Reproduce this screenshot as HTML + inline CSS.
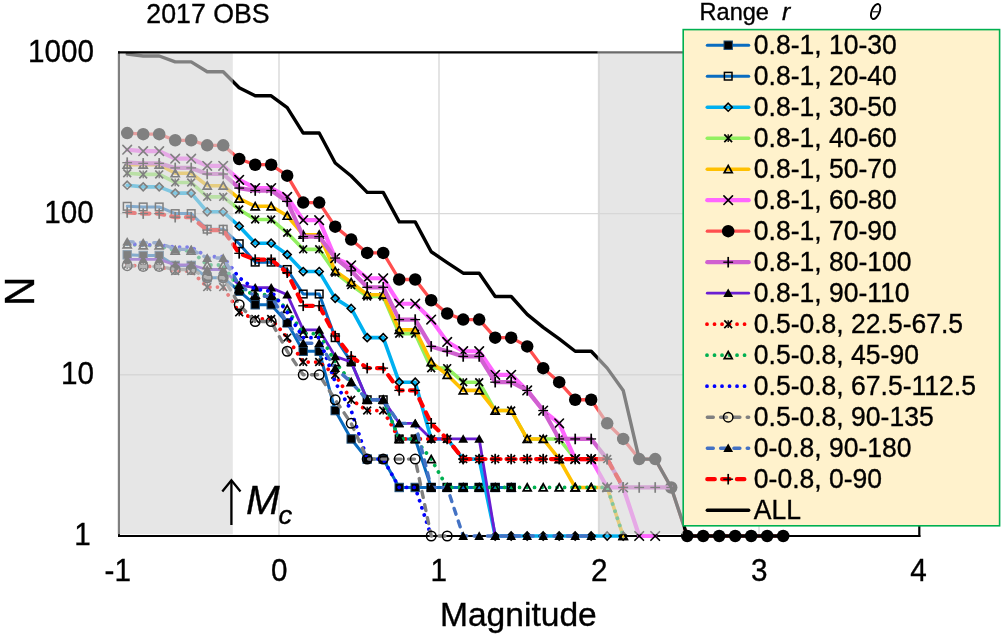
<!DOCTYPE html><html><head><meta charset="utf-8"><style>
html,body{margin:0;padding:0;background:#fff;}body{width:1001px;height:638px;overflow:hidden;}
svg{display:block;font-family:"Liberation Sans",sans-serif;will-change:transform;}text{stroke:#000;stroke-width:0.35px;}
</style></head><body>
<svg width="1001" height="638" viewBox="0 0 1001 638">
<rect x="0" y="0" width="1001" height="638" fill="#fff"/>
<line x1="279.0" y1="52.4" x2="279.0" y2="536" stroke="#D9D9D9" stroke-width="1.4"/>
<line x1="439.0" y1="52.4" x2="439.0" y2="536" stroke="#D9D9D9" stroke-width="1.4"/>
<line x1="599.0" y1="52.4" x2="599.0" y2="536" stroke="#D9D9D9" stroke-width="1.4"/>
<line x1="759.0" y1="52.4" x2="759.0" y2="536" stroke="#D9D9D9" stroke-width="1.4"/>
<line x1="119" y1="374.80" x2="919.5" y2="374.80" stroke="#D9D9D9" stroke-width="1.4"/>
<line x1="119" y1="213.60" x2="919.5" y2="213.60" stroke="#D9D9D9" stroke-width="1.4"/>
<line x1="919.3" y1="52.4" x2="919.3" y2="537" stroke="#000" stroke-width="2.2"/>
<line x1="118" y1="536" x2="920.4" y2="536" stroke="#000" stroke-width="2.2"/>
<line x1="119" y1="51.4" x2="119" y2="537" stroke="#000" stroke-width="2"/>
<path d="M127.20 254.82 L143.20 255.45 L159.20 255.45 L175.20 265.42 L191.20 265.42 L207.20 277.75 L223.20 277.75 L239.20 291.22 L255.20 304.75 L271.20 304.75 L287.20 322.86 L303.20 351.24 L319.20 351.24 L335.20 410.56 L351.20 438.95 L367.20 459.09 L383.20 459.09 L399.20 487.47 L415.20 487.47 L431.20 487.47 L447.20 487.47 L463.20 487.47 L479.20 487.47 L495.20 487.47 L511.20 487.47" fill="none" stroke="#0A6CC0" stroke-width="3.0" stroke-linejoin="round" stroke-linecap="round"/>
<g><rect x="123.00" y="250.62" width="8.4" height="8.4" fill="#000" stroke="#1F4E79" stroke-width="1"/><rect x="139.00" y="251.25" width="8.4" height="8.4" fill="#000" stroke="#1F4E79" stroke-width="1"/><rect x="155.00" y="251.25" width="8.4" height="8.4" fill="#000" stroke="#1F4E79" stroke-width="1"/><rect x="171.00" y="261.22" width="8.4" height="8.4" fill="#000" stroke="#1F4E79" stroke-width="1"/><rect x="187.00" y="261.22" width="8.4" height="8.4" fill="#000" stroke="#1F4E79" stroke-width="1"/><rect x="203.00" y="273.55" width="8.4" height="8.4" fill="#000" stroke="#1F4E79" stroke-width="1"/><rect x="219.00" y="273.55" width="8.4" height="8.4" fill="#000" stroke="#1F4E79" stroke-width="1"/><rect x="235.00" y="287.02" width="8.4" height="8.4" fill="#000" stroke="#1F4E79" stroke-width="1"/><rect x="251.00" y="300.55" width="8.4" height="8.4" fill="#000" stroke="#1F4E79" stroke-width="1"/><rect x="267.00" y="300.55" width="8.4" height="8.4" fill="#000" stroke="#1F4E79" stroke-width="1"/><rect x="283.00" y="318.66" width="8.4" height="8.4" fill="#000" stroke="#1F4E79" stroke-width="1"/><rect x="299.00" y="347.04" width="8.4" height="8.4" fill="#000" stroke="#1F4E79" stroke-width="1"/><rect x="315.00" y="347.04" width="8.4" height="8.4" fill="#000" stroke="#1F4E79" stroke-width="1"/><rect x="331.00" y="406.36" width="8.4" height="8.4" fill="#000" stroke="#1F4E79" stroke-width="1"/><rect x="347.00" y="434.75" width="8.4" height="8.4" fill="#000" stroke="#1F4E79" stroke-width="1"/><rect x="363.00" y="454.89" width="8.4" height="8.4" fill="#000" stroke="#1F4E79" stroke-width="1"/><rect x="379.00" y="454.89" width="8.4" height="8.4" fill="#000" stroke="#1F4E79" stroke-width="1"/><rect x="395.00" y="483.27" width="8.4" height="8.4" fill="#000" stroke="#1F4E79" stroke-width="1"/><rect x="411.00" y="483.27" width="8.4" height="8.4" fill="#000" stroke="#1F4E79" stroke-width="1"/><rect x="427.00" y="483.27" width="8.4" height="8.4" fill="#000" stroke="#1F4E79" stroke-width="1"/><rect x="443.00" y="483.27" width="8.4" height="8.4" fill="#000" stroke="#1F4E79" stroke-width="1"/><rect x="459.00" y="483.27" width="8.4" height="8.4" fill="#000" stroke="#1F4E79" stroke-width="1"/><rect x="475.00" y="483.27" width="8.4" height="8.4" fill="#000" stroke="#1F4E79" stroke-width="1"/><rect x="491.00" y="483.27" width="8.4" height="8.4" fill="#000" stroke="#1F4E79" stroke-width="1"/><rect x="507.00" y="483.27" width="8.4" height="8.4" fill="#000" stroke="#1F4E79" stroke-width="1"/></g>
<path d="M127.20 206.29 L143.20 206.93 L159.20 206.93 L175.20 213.60 L191.20 213.60 L207.20 229.22 L223.20 229.22 L239.20 243.76 L255.20 262.13 L271.20 262.13 L287.20 269.50 L303.20 294.03 L319.20 294.03 L335.20 337.65 L351.20 362.04 L367.20 399.77 L383.20 399.77 L399.20 438.95 L415.20 438.95 L431.20 487.47 L447.20 487.47 L463.20 487.47 L479.20 487.47 L495.20 487.47 L511.20 487.47" fill="none" stroke="#0A6CC0" stroke-width="3.0" stroke-linejoin="round" stroke-linecap="round"/>
<g><rect x="123.40" y="202.49" width="7.6" height="7.6" fill="none" stroke="#000" stroke-width="1.5"/><rect x="139.40" y="203.13" width="7.6" height="7.6" fill="none" stroke="#000" stroke-width="1.5"/><rect x="155.40" y="203.13" width="7.6" height="7.6" fill="none" stroke="#000" stroke-width="1.5"/><rect x="171.40" y="209.80" width="7.6" height="7.6" fill="none" stroke="#000" stroke-width="1.5"/><rect x="187.40" y="209.80" width="7.6" height="7.6" fill="none" stroke="#000" stroke-width="1.5"/><rect x="203.40" y="225.42" width="7.6" height="7.6" fill="none" stroke="#000" stroke-width="1.5"/><rect x="219.40" y="225.42" width="7.6" height="7.6" fill="none" stroke="#000" stroke-width="1.5"/><rect x="235.40" y="239.96" width="7.6" height="7.6" fill="none" stroke="#000" stroke-width="1.5"/><rect x="251.40" y="258.33" width="7.6" height="7.6" fill="none" stroke="#000" stroke-width="1.5"/><rect x="267.40" y="258.33" width="7.6" height="7.6" fill="none" stroke="#000" stroke-width="1.5"/><rect x="283.40" y="265.70" width="7.6" height="7.6" fill="none" stroke="#000" stroke-width="1.5"/><rect x="299.40" y="290.23" width="7.6" height="7.6" fill="none" stroke="#000" stroke-width="1.5"/><rect x="315.40" y="290.23" width="7.6" height="7.6" fill="none" stroke="#000" stroke-width="1.5"/><rect x="331.40" y="333.85" width="7.6" height="7.6" fill="none" stroke="#000" stroke-width="1.5"/><rect x="347.40" y="358.24" width="7.6" height="7.6" fill="none" stroke="#000" stroke-width="1.5"/><rect x="363.40" y="395.97" width="7.6" height="7.6" fill="none" stroke="#000" stroke-width="1.5"/><rect x="379.40" y="395.97" width="7.6" height="7.6" fill="none" stroke="#000" stroke-width="1.5"/><rect x="395.40" y="435.15" width="7.6" height="7.6" fill="none" stroke="#000" stroke-width="1.5"/><rect x="411.40" y="435.15" width="7.6" height="7.6" fill="none" stroke="#000" stroke-width="1.5"/><rect x="427.40" y="483.67" width="7.6" height="7.6" fill="none" stroke="#000" stroke-width="1.5"/><rect x="443.40" y="483.67" width="7.6" height="7.6" fill="none" stroke="#000" stroke-width="1.5"/><rect x="459.40" y="483.67" width="7.6" height="7.6" fill="none" stroke="#000" stroke-width="1.5"/><rect x="475.40" y="483.67" width="7.6" height="7.6" fill="none" stroke="#000" stroke-width="1.5"/><rect x="491.40" y="483.67" width="7.6" height="7.6" fill="none" stroke="#000" stroke-width="1.5"/><rect x="507.40" y="483.67" width="7.6" height="7.6" fill="none" stroke="#000" stroke-width="1.5"/></g>
<path d="M127.20 185.21 L143.20 186.87 L159.20 186.87 L175.20 193.11 L191.20 193.11 L207.20 211.80 L223.20 211.80 L239.20 226.22 L255.20 243.22 L271.20 243.22 L287.20 254.57 L303.20 271.55 L319.20 271.55 L335.20 298.36 L351.20 308.45 L367.20 337.65 L383.20 337.65 L399.20 382.18 L415.20 382.18 L431.20 438.95 L447.20 438.95 L463.20 459.09 L479.20 459.09 L495.20 536.00 L511.20 536.00 L527.20 536.00 L543.20 536.00 L559.20 536.00 L575.20 536.00 L591.20 536.00 L607.20 536.00 L623.20 536.00" fill="none" stroke="#00B0F0" stroke-width="3.6" stroke-linejoin="round" stroke-linecap="round"/>
<g><path d="M127.20 181.21L131.20 185.21L127.20 189.21L123.20 185.21Z" fill="none" stroke="#000" stroke-width="1.6"/><path d="M143.20 182.87L147.20 186.87L143.20 190.87L139.20 186.87Z" fill="none" stroke="#000" stroke-width="1.6"/><path d="M159.20 182.87L163.20 186.87L159.20 190.87L155.20 186.87Z" fill="none" stroke="#000" stroke-width="1.6"/><path d="M175.20 189.11L179.20 193.11L175.20 197.11L171.20 193.11Z" fill="none" stroke="#000" stroke-width="1.6"/><path d="M191.20 189.11L195.20 193.11L191.20 197.11L187.20 193.11Z" fill="none" stroke="#000" stroke-width="1.6"/><path d="M207.20 207.80L211.20 211.80L207.20 215.80L203.20 211.80Z" fill="none" stroke="#000" stroke-width="1.6"/><path d="M223.20 207.80L227.20 211.80L223.20 215.80L219.20 211.80Z" fill="none" stroke="#000" stroke-width="1.6"/><path d="M239.20 222.22L243.20 226.22L239.20 230.22L235.20 226.22Z" fill="none" stroke="#000" stroke-width="1.6"/><path d="M255.20 239.22L259.20 243.22L255.20 247.22L251.20 243.22Z" fill="none" stroke="#000" stroke-width="1.6"/><path d="M271.20 239.22L275.20 243.22L271.20 247.22L267.20 243.22Z" fill="none" stroke="#000" stroke-width="1.6"/><path d="M287.20 250.57L291.20 254.57L287.20 258.57L283.20 254.57Z" fill="none" stroke="#000" stroke-width="1.6"/><path d="M303.20 267.55L307.20 271.55L303.20 275.55L299.20 271.55Z" fill="none" stroke="#000" stroke-width="1.6"/><path d="M319.20 267.55L323.20 271.55L319.20 275.55L315.20 271.55Z" fill="none" stroke="#000" stroke-width="1.6"/><path d="M335.20 294.36L339.20 298.36L335.20 302.36L331.20 298.36Z" fill="none" stroke="#000" stroke-width="1.6"/><path d="M351.20 304.45L355.20 308.45L351.20 312.45L347.20 308.45Z" fill="none" stroke="#000" stroke-width="1.6"/><path d="M367.20 333.65L371.20 337.65L367.20 341.65L363.20 337.65Z" fill="none" stroke="#000" stroke-width="1.6"/><path d="M383.20 333.65L387.20 337.65L383.20 341.65L379.20 337.65Z" fill="none" stroke="#000" stroke-width="1.6"/><path d="M399.20 378.18L403.20 382.18L399.20 386.18L395.20 382.18Z" fill="none" stroke="#000" stroke-width="1.6"/><path d="M415.20 378.18L419.20 382.18L415.20 386.18L411.20 382.18Z" fill="none" stroke="#000" stroke-width="1.6"/><path d="M431.20 434.95L435.20 438.95L431.20 442.95L427.20 438.95Z" fill="none" stroke="#000" stroke-width="1.6"/><path d="M447.20 434.95L451.20 438.95L447.20 442.95L443.20 438.95Z" fill="none" stroke="#000" stroke-width="1.6"/><path d="M463.20 455.09L467.20 459.09L463.20 463.09L459.20 459.09Z" fill="none" stroke="#000" stroke-width="1.6"/><path d="M479.20 455.09L483.20 459.09L479.20 463.09L475.20 459.09Z" fill="none" stroke="#000" stroke-width="1.6"/><path d="M495.20 532.00L499.20 536.00L495.20 540.00L491.20 536.00Z" fill="none" stroke="#000" stroke-width="1.6"/><path d="M511.20 532.00L515.20 536.00L511.20 540.00L507.20 536.00Z" fill="none" stroke="#000" stroke-width="1.6"/><path d="M527.20 532.00L531.20 536.00L527.20 540.00L523.20 536.00Z" fill="none" stroke="#000" stroke-width="1.6"/><path d="M543.20 532.00L547.20 536.00L543.20 540.00L539.20 536.00Z" fill="none" stroke="#000" stroke-width="1.6"/><path d="M559.20 532.00L563.20 536.00L559.20 540.00L555.20 536.00Z" fill="none" stroke="#000" stroke-width="1.6"/><path d="M575.20 532.00L579.20 536.00L575.20 540.00L571.20 536.00Z" fill="none" stroke="#000" stroke-width="1.6"/><path d="M591.20 532.00L595.20 536.00L591.20 540.00L587.20 536.00Z" fill="none" stroke="#000" stroke-width="1.6"/><path d="M607.20 532.00L611.20 536.00L607.20 540.00L603.20 536.00Z" fill="none" stroke="#000" stroke-width="1.6"/><path d="M623.20 532.00L627.20 536.00L623.20 540.00L619.20 536.00Z" fill="none" stroke="#000" stroke-width="1.6"/></g>
<path d="M127.20 173.23 L143.20 174.42 L159.20 174.42 L175.20 182.47 L191.20 182.47 L207.20 196.87 L223.20 196.87 L239.20 209.52 L255.20 219.44 L271.20 219.44 L287.20 232.81 L303.20 249.36 L319.20 249.36 L335.20 272.68 L351.20 285.12 L367.20 296.50 L383.20 296.50 L399.20 333.65 L415.20 333.65 L431.20 368.13 L447.20 368.13 L463.20 382.18 L479.20 382.18 L495.20 410.56 L511.20 410.56 L527.20 438.95 L543.20 438.95 L559.20 438.95 L575.20 459.09 L591.20 459.09" fill="none" stroke="#92F060" stroke-width="3.6" stroke-linejoin="round" stroke-linecap="round"/>
<g><path d="M123.30 169.33L131.10 177.13M131.10 169.33L123.30 177.13" stroke="#000" stroke-width="1.7" fill="none"/><path d="M127.20 169.33L127.20 177.13" stroke="#000" stroke-width="1.3" fill="none"/><path d="M139.30 170.52L147.10 178.32M147.10 170.52L139.30 178.32" stroke="#000" stroke-width="1.7" fill="none"/><path d="M143.20 170.52L143.20 178.32" stroke="#000" stroke-width="1.3" fill="none"/><path d="M155.30 170.52L163.10 178.32M163.10 170.52L155.30 178.32" stroke="#000" stroke-width="1.7" fill="none"/><path d="M159.20 170.52L159.20 178.32" stroke="#000" stroke-width="1.3" fill="none"/><path d="M171.30 178.57L179.10 186.37M179.10 178.57L171.30 186.37" stroke="#000" stroke-width="1.7" fill="none"/><path d="M175.20 178.57L175.20 186.37" stroke="#000" stroke-width="1.3" fill="none"/><path d="M187.30 178.57L195.10 186.37M195.10 178.57L187.30 186.37" stroke="#000" stroke-width="1.7" fill="none"/><path d="M191.20 178.57L191.20 186.37" stroke="#000" stroke-width="1.3" fill="none"/><path d="M203.30 192.97L211.10 200.77M211.10 192.97L203.30 200.77" stroke="#000" stroke-width="1.7" fill="none"/><path d="M207.20 192.97L207.20 200.77" stroke="#000" stroke-width="1.3" fill="none"/><path d="M219.30 192.97L227.10 200.77M227.10 192.97L219.30 200.77" stroke="#000" stroke-width="1.7" fill="none"/><path d="M223.20 192.97L223.20 200.77" stroke="#000" stroke-width="1.3" fill="none"/><path d="M235.30 205.62L243.10 213.42M243.10 205.62L235.30 213.42" stroke="#000" stroke-width="1.7" fill="none"/><path d="M239.20 205.62L239.20 213.42" stroke="#000" stroke-width="1.3" fill="none"/><path d="M251.30 215.54L259.10 223.34M259.10 215.54L251.30 223.34" stroke="#000" stroke-width="1.7" fill="none"/><path d="M255.20 215.54L255.20 223.34" stroke="#000" stroke-width="1.3" fill="none"/><path d="M267.30 215.54L275.10 223.34M275.10 215.54L267.30 223.34" stroke="#000" stroke-width="1.7" fill="none"/><path d="M271.20 215.54L271.20 223.34" stroke="#000" stroke-width="1.3" fill="none"/><path d="M283.30 228.91L291.10 236.71M291.10 228.91L283.30 236.71" stroke="#000" stroke-width="1.7" fill="none"/><path d="M287.20 228.91L287.20 236.71" stroke="#000" stroke-width="1.3" fill="none"/><path d="M299.30 245.46L307.10 253.26M307.10 245.46L299.30 253.26" stroke="#000" stroke-width="1.7" fill="none"/><path d="M303.20 245.46L303.20 253.26" stroke="#000" stroke-width="1.3" fill="none"/><path d="M315.30 245.46L323.10 253.26M323.10 245.46L315.30 253.26" stroke="#000" stroke-width="1.7" fill="none"/><path d="M319.20 245.46L319.20 253.26" stroke="#000" stroke-width="1.3" fill="none"/><path d="M331.30 268.78L339.10 276.58M339.10 268.78L331.30 276.58" stroke="#000" stroke-width="1.7" fill="none"/><path d="M335.20 268.78L335.20 276.58" stroke="#000" stroke-width="1.3" fill="none"/><path d="M347.30 281.22L355.10 289.02M355.10 281.22L347.30 289.02" stroke="#000" stroke-width="1.7" fill="none"/><path d="M351.20 281.22L351.20 289.02" stroke="#000" stroke-width="1.3" fill="none"/><path d="M363.30 292.60L371.10 300.40M371.10 292.60L363.30 300.40" stroke="#000" stroke-width="1.7" fill="none"/><path d="M367.20 292.60L367.20 300.40" stroke="#000" stroke-width="1.3" fill="none"/><path d="M379.30 292.60L387.10 300.40M387.10 292.60L379.30 300.40" stroke="#000" stroke-width="1.7" fill="none"/><path d="M383.20 292.60L383.20 300.40" stroke="#000" stroke-width="1.3" fill="none"/><path d="M395.30 329.75L403.10 337.55M403.10 329.75L395.30 337.55" stroke="#000" stroke-width="1.7" fill="none"/><path d="M399.20 329.75L399.20 337.55" stroke="#000" stroke-width="1.3" fill="none"/><path d="M411.30 329.75L419.10 337.55M419.10 329.75L411.30 337.55" stroke="#000" stroke-width="1.7" fill="none"/><path d="M415.20 329.75L415.20 337.55" stroke="#000" stroke-width="1.3" fill="none"/><path d="M427.30 364.23L435.10 372.03M435.10 364.23L427.30 372.03" stroke="#000" stroke-width="1.7" fill="none"/><path d="M431.20 364.23L431.20 372.03" stroke="#000" stroke-width="1.3" fill="none"/><path d="M443.30 364.23L451.10 372.03M451.10 364.23L443.30 372.03" stroke="#000" stroke-width="1.7" fill="none"/><path d="M447.20 364.23L447.20 372.03" stroke="#000" stroke-width="1.3" fill="none"/><path d="M459.30 378.28L467.10 386.08M467.10 378.28L459.30 386.08" stroke="#000" stroke-width="1.7" fill="none"/><path d="M463.20 378.28L463.20 386.08" stroke="#000" stroke-width="1.3" fill="none"/><path d="M475.30 378.28L483.10 386.08M483.10 378.28L475.30 386.08" stroke="#000" stroke-width="1.7" fill="none"/><path d="M479.20 378.28L479.20 386.08" stroke="#000" stroke-width="1.3" fill="none"/><path d="M491.30 406.66L499.10 414.46M499.10 406.66L491.30 414.46" stroke="#000" stroke-width="1.7" fill="none"/><path d="M495.20 406.66L495.20 414.46" stroke="#000" stroke-width="1.3" fill="none"/><path d="M507.30 406.66L515.10 414.46M515.10 406.66L507.30 414.46" stroke="#000" stroke-width="1.7" fill="none"/><path d="M511.20 406.66L511.20 414.46" stroke="#000" stroke-width="1.3" fill="none"/><path d="M523.30 435.05L531.10 442.85M531.10 435.05L523.30 442.85" stroke="#000" stroke-width="1.7" fill="none"/><path d="M527.20 435.05L527.20 442.85" stroke="#000" stroke-width="1.3" fill="none"/><path d="M539.30 435.05L547.10 442.85M547.10 435.05L539.30 442.85" stroke="#000" stroke-width="1.7" fill="none"/><path d="M543.20 435.05L543.20 442.85" stroke="#000" stroke-width="1.3" fill="none"/><path d="M555.30 435.05L563.10 442.85M563.10 435.05L555.30 442.85" stroke="#000" stroke-width="1.7" fill="none"/><path d="M559.20 435.05L559.20 442.85" stroke="#000" stroke-width="1.3" fill="none"/><path d="M571.30 455.19L579.10 462.99M579.10 455.19L571.30 462.99" stroke="#000" stroke-width="1.7" fill="none"/><path d="M575.20 455.19L575.20 462.99" stroke="#000" stroke-width="1.3" fill="none"/><path d="M587.30 455.19L595.10 462.99M595.10 455.19L587.30 462.99" stroke="#000" stroke-width="1.7" fill="none"/><path d="M591.20 455.19L591.20 462.99" stroke="#000" stroke-width="1.3" fill="none"/></g>
<path d="M127.20 164.72 L143.20 164.72 L159.20 164.72 L175.20 173.23 L191.20 173.23 L207.20 185.68 L223.20 185.68 L239.20 198.54 L255.20 206.29 L271.20 206.29 L287.20 215.73 L303.20 234.68 L319.20 234.68 L335.20 271.08 L351.20 282.27 L367.20 294.69 L383.20 294.69 L399.20 329.86 L415.20 329.86 L431.20 362.04 L447.20 374.80 L463.20 390.42 L479.20 390.42 L495.20 410.56 L511.20 410.56 L527.20 438.95 L543.20 438.95 L559.20 459.09 L575.20 487.47 L591.20 487.47 L607.20 487.47 L623.20 536.00" fill="none" stroke="#FFC000" stroke-width="3.6" stroke-linejoin="round" stroke-linecap="round"/>
<g><path d="M127.20 161.02L131.20 168.22L123.20 168.22Z" fill="none" stroke="#000" stroke-width="1.7" stroke-linejoin="miter"/><path d="M143.20 161.02L147.20 168.22L139.20 168.22Z" fill="none" stroke="#000" stroke-width="1.7" stroke-linejoin="miter"/><path d="M159.20 161.02L163.20 168.22L155.20 168.22Z" fill="none" stroke="#000" stroke-width="1.7" stroke-linejoin="miter"/><path d="M175.20 169.53L179.20 176.73L171.20 176.73Z" fill="none" stroke="#000" stroke-width="1.7" stroke-linejoin="miter"/><path d="M191.20 169.53L195.20 176.73L187.20 176.73Z" fill="none" stroke="#000" stroke-width="1.7" stroke-linejoin="miter"/><path d="M207.20 181.98L211.20 189.18L203.20 189.18Z" fill="none" stroke="#000" stroke-width="1.7" stroke-linejoin="miter"/><path d="M223.20 181.98L227.20 189.18L219.20 189.18Z" fill="none" stroke="#000" stroke-width="1.7" stroke-linejoin="miter"/><path d="M239.20 194.84L243.20 202.04L235.20 202.04Z" fill="none" stroke="#000" stroke-width="1.7" stroke-linejoin="miter"/><path d="M255.20 202.59L259.20 209.79L251.20 209.79Z" fill="none" stroke="#000" stroke-width="1.7" stroke-linejoin="miter"/><path d="M271.20 202.59L275.20 209.79L267.20 209.79Z" fill="none" stroke="#000" stroke-width="1.7" stroke-linejoin="miter"/><path d="M287.20 212.03L291.20 219.23L283.20 219.23Z" fill="none" stroke="#000" stroke-width="1.7" stroke-linejoin="miter"/><path d="M303.20 230.98L307.20 238.18L299.20 238.18Z" fill="none" stroke="#000" stroke-width="1.7" stroke-linejoin="miter"/><path d="M319.20 230.98L323.20 238.18L315.20 238.18Z" fill="none" stroke="#000" stroke-width="1.7" stroke-linejoin="miter"/><path d="M335.20 267.38L339.20 274.58L331.20 274.58Z" fill="none" stroke="#000" stroke-width="1.7" stroke-linejoin="miter"/><path d="M351.20 278.57L355.20 285.77L347.20 285.77Z" fill="none" stroke="#000" stroke-width="1.7" stroke-linejoin="miter"/><path d="M367.20 290.99L371.20 298.19L363.20 298.19Z" fill="none" stroke="#000" stroke-width="1.7" stroke-linejoin="miter"/><path d="M383.20 290.99L387.20 298.19L379.20 298.19Z" fill="none" stroke="#000" stroke-width="1.7" stroke-linejoin="miter"/><path d="M399.20 326.16L403.20 333.36L395.20 333.36Z" fill="none" stroke="#000" stroke-width="1.7" stroke-linejoin="miter"/><path d="M415.20 326.16L419.20 333.36L411.20 333.36Z" fill="none" stroke="#000" stroke-width="1.7" stroke-linejoin="miter"/><path d="M431.20 358.34L435.20 365.54L427.20 365.54Z" fill="none" stroke="#000" stroke-width="1.7" stroke-linejoin="miter"/><path d="M447.20 371.10L451.20 378.30L443.20 378.30Z" fill="none" stroke="#000" stroke-width="1.7" stroke-linejoin="miter"/><path d="M463.20 386.72L467.20 393.92L459.20 393.92Z" fill="none" stroke="#000" stroke-width="1.7" stroke-linejoin="miter"/><path d="M479.20 386.72L483.20 393.92L475.20 393.92Z" fill="none" stroke="#000" stroke-width="1.7" stroke-linejoin="miter"/><path d="M495.20 406.86L499.20 414.06L491.20 414.06Z" fill="none" stroke="#000" stroke-width="1.7" stroke-linejoin="miter"/><path d="M511.20 406.86L515.20 414.06L507.20 414.06Z" fill="none" stroke="#000" stroke-width="1.7" stroke-linejoin="miter"/><path d="M527.20 435.25L531.20 442.45L523.20 442.45Z" fill="none" stroke="#000" stroke-width="1.7" stroke-linejoin="miter"/><path d="M543.20 435.25L547.20 442.45L539.20 442.45Z" fill="none" stroke="#000" stroke-width="1.7" stroke-linejoin="miter"/><path d="M559.20 455.39L563.20 462.59L555.20 462.59Z" fill="none" stroke="#000" stroke-width="1.7" stroke-linejoin="miter"/><path d="M575.20 483.77L579.20 490.97L571.20 490.97Z" fill="none" stroke="#000" stroke-width="1.7" stroke-linejoin="miter"/><path d="M591.20 483.77L595.20 490.97L587.20 490.97Z" fill="none" stroke="#000" stroke-width="1.7" stroke-linejoin="miter"/><path d="M607.20 483.77L611.20 490.97L603.20 490.97Z" fill="none" stroke="#000" stroke-width="1.7" stroke-linejoin="miter"/><path d="M623.20 532.30L627.20 539.50L619.20 539.50Z" fill="none" stroke="#000" stroke-width="1.7" stroke-linejoin="miter"/></g>
<path d="M127.20 149.73 L143.20 151.15 L159.20 151.15 L175.20 158.72 L191.20 158.72 L207.20 165.78 L223.20 165.78 L239.20 179.83 L255.20 188.07 L271.20 188.07 L287.20 196.87 L303.20 220.20 L319.20 220.20 L335.20 258.05 L351.20 265.28 L367.20 278.27 L383.20 278.27 L399.20 303.73 L415.20 303.73 L431.20 319.60 L447.20 341.90 L463.20 351.24 L479.20 351.24 L495.20 374.80 L511.20 374.80 L527.20 390.42 L543.20 410.56 L559.20 423.33 L575.20 459.09 L591.20 459.09 L607.20 487.47 L623.20 487.47 L639.20 536.00 L655.20 536.00" fill="none" stroke="#FF66FF" stroke-width="4.2" stroke-linejoin="round" stroke-linecap="round"/>
<g><path d="M122.90 145.43L131.50 154.03M131.50 145.43L122.90 154.03" stroke="#000" stroke-width="1.6" fill="none" stroke-linecap="round"/><path d="M138.90 146.85L147.50 155.45M147.50 146.85L138.90 155.45" stroke="#000" stroke-width="1.6" fill="none" stroke-linecap="round"/><path d="M154.90 146.85L163.50 155.45M163.50 146.85L154.90 155.45" stroke="#000" stroke-width="1.6" fill="none" stroke-linecap="round"/><path d="M170.90 154.42L179.50 163.02M179.50 154.42L170.90 163.02" stroke="#000" stroke-width="1.6" fill="none" stroke-linecap="round"/><path d="M186.90 154.42L195.50 163.02M195.50 154.42L186.90 163.02" stroke="#000" stroke-width="1.6" fill="none" stroke-linecap="round"/><path d="M202.90 161.48L211.50 170.08M211.50 161.48L202.90 170.08" stroke="#000" stroke-width="1.6" fill="none" stroke-linecap="round"/><path d="M218.90 161.48L227.50 170.08M227.50 161.48L218.90 170.08" stroke="#000" stroke-width="1.6" fill="none" stroke-linecap="round"/><path d="M234.90 175.53L243.50 184.13M243.50 175.53L234.90 184.13" stroke="#000" stroke-width="1.6" fill="none" stroke-linecap="round"/><path d="M250.90 183.77L259.50 192.37M259.50 183.77L250.90 192.37" stroke="#000" stroke-width="1.6" fill="none" stroke-linecap="round"/><path d="M266.90 183.77L275.50 192.37M275.50 183.77L266.90 192.37" stroke="#000" stroke-width="1.6" fill="none" stroke-linecap="round"/><path d="M282.90 192.57L291.50 201.17M291.50 192.57L282.90 201.17" stroke="#000" stroke-width="1.6" fill="none" stroke-linecap="round"/><path d="M298.90 215.90L307.50 224.50M307.50 215.90L298.90 224.50" stroke="#000" stroke-width="1.6" fill="none" stroke-linecap="round"/><path d="M314.90 215.90L323.50 224.50M323.50 215.90L314.90 224.50" stroke="#000" stroke-width="1.6" fill="none" stroke-linecap="round"/><path d="M330.90 253.75L339.50 262.35M339.50 253.75L330.90 262.35" stroke="#000" stroke-width="1.6" fill="none" stroke-linecap="round"/><path d="M346.90 260.98L355.50 269.58M355.50 260.98L346.90 269.58" stroke="#000" stroke-width="1.6" fill="none" stroke-linecap="round"/><path d="M362.90 273.97L371.50 282.57M371.50 273.97L362.90 282.57" stroke="#000" stroke-width="1.6" fill="none" stroke-linecap="round"/><path d="M378.90 273.97L387.50 282.57M387.50 273.97L378.90 282.57" stroke="#000" stroke-width="1.6" fill="none" stroke-linecap="round"/><path d="M394.90 299.43L403.50 308.03M403.50 299.43L394.90 308.03" stroke="#000" stroke-width="1.6" fill="none" stroke-linecap="round"/><path d="M410.90 299.43L419.50 308.03M419.50 299.43L410.90 308.03" stroke="#000" stroke-width="1.6" fill="none" stroke-linecap="round"/><path d="M426.90 315.30L435.50 323.90M435.50 315.30L426.90 323.90" stroke="#000" stroke-width="1.6" fill="none" stroke-linecap="round"/><path d="M442.90 337.60L451.50 346.20M451.50 337.60L442.90 346.20" stroke="#000" stroke-width="1.6" fill="none" stroke-linecap="round"/><path d="M458.90 346.94L467.50 355.54M467.50 346.94L458.90 355.54" stroke="#000" stroke-width="1.6" fill="none" stroke-linecap="round"/><path d="M474.90 346.94L483.50 355.54M483.50 346.94L474.90 355.54" stroke="#000" stroke-width="1.6" fill="none" stroke-linecap="round"/><path d="M490.90 370.50L499.50 379.10M499.50 370.50L490.90 379.10" stroke="#000" stroke-width="1.6" fill="none" stroke-linecap="round"/><path d="M506.90 370.50L515.50 379.10M515.50 370.50L506.90 379.10" stroke="#000" stroke-width="1.6" fill="none" stroke-linecap="round"/><path d="M522.90 386.12L531.50 394.72M531.50 386.12L522.90 394.72" stroke="#000" stroke-width="1.6" fill="none" stroke-linecap="round"/><path d="M538.90 406.26L547.50 414.86M547.50 406.26L538.90 414.86" stroke="#000" stroke-width="1.6" fill="none" stroke-linecap="round"/><path d="M554.90 419.03L563.50 427.63M563.50 419.03L554.90 427.63" stroke="#000" stroke-width="1.6" fill="none" stroke-linecap="round"/><path d="M570.90 454.79L579.50 463.39M579.50 454.79L570.90 463.39" stroke="#000" stroke-width="1.6" fill="none" stroke-linecap="round"/><path d="M586.90 454.79L595.50 463.39M595.50 454.79L586.90 463.39" stroke="#000" stroke-width="1.6" fill="none" stroke-linecap="round"/><path d="M602.90 483.17L611.50 491.77M611.50 483.17L602.90 491.77" stroke="#000" stroke-width="1.6" fill="none" stroke-linecap="round"/><path d="M618.90 483.17L627.50 491.77M627.50 483.17L618.90 491.77" stroke="#000" stroke-width="1.6" fill="none" stroke-linecap="round"/><path d="M634.90 531.70L643.50 540.30M643.50 531.70L634.90 540.30" stroke="#000" stroke-width="1.6" fill="none" stroke-linecap="round"/><path d="M650.90 531.70L659.50 540.30M659.50 531.70L650.90 540.30" stroke="#000" stroke-width="1.6" fill="none" stroke-linecap="round"/></g>
<path d="M127.20 133.05 L143.20 134.17 L159.20 134.17 L175.20 140.28 L191.20 140.28 L207.20 145.37 L223.20 145.37 L239.20 159.04 L255.20 164.72 L271.20 164.72 L287.20 175.63 L303.20 202.61 L319.20 202.61 L335.20 226.64 L351.20 239.58 L367.20 252.95 L383.20 252.95 L399.20 279.52 L415.20 279.52 L431.20 300.26 L447.20 313.51 L463.20 319.60 L479.20 319.60 L495.20 337.65 L511.20 337.65 L527.20 346.41 L543.20 368.13 L559.20 382.18 L575.20 399.77 L591.20 399.77 L607.20 423.33 L623.20 438.95 L639.20 459.09 L655.20 459.09 L671.20 487.47 L687.20 536.00 L703.20 536.00 L719.20 536.00 L735.20 536.00 L751.20 536.00 L767.20 536.00 L783.20 536.00" fill="none" stroke="#FF4F4F" stroke-width="3.3" stroke-linejoin="round" stroke-linecap="round"/>
<g><circle cx="127.20" cy="133.05" r="6.25" fill="#000"/><circle cx="143.20" cy="134.17" r="6.25" fill="#000"/><circle cx="159.20" cy="134.17" r="6.25" fill="#000"/><circle cx="175.20" cy="140.28" r="6.25" fill="#000"/><circle cx="191.20" cy="140.28" r="6.25" fill="#000"/><circle cx="207.20" cy="145.37" r="6.25" fill="#000"/><circle cx="223.20" cy="145.37" r="6.25" fill="#000"/><circle cx="239.20" cy="159.04" r="6.25" fill="#000"/><circle cx="255.20" cy="164.72" r="6.25" fill="#000"/><circle cx="271.20" cy="164.72" r="6.25" fill="#000"/><circle cx="287.20" cy="175.63" r="6.25" fill="#000"/><circle cx="303.20" cy="202.61" r="6.25" fill="#000"/><circle cx="319.20" cy="202.61" r="6.25" fill="#000"/><circle cx="335.20" cy="226.64" r="6.25" fill="#000"/><circle cx="351.20" cy="239.58" r="6.25" fill="#000"/><circle cx="367.20" cy="252.95" r="6.25" fill="#000"/><circle cx="383.20" cy="252.95" r="6.25" fill="#000"/><circle cx="399.20" cy="279.52" r="6.25" fill="#000"/><circle cx="415.20" cy="279.52" r="6.25" fill="#000"/><circle cx="431.20" cy="300.26" r="6.25" fill="#000"/><circle cx="447.20" cy="313.51" r="6.25" fill="#000"/><circle cx="463.20" cy="319.60" r="6.25" fill="#000"/><circle cx="479.20" cy="319.60" r="6.25" fill="#000"/><circle cx="495.20" cy="337.65" r="6.25" fill="#000"/><circle cx="511.20" cy="337.65" r="6.25" fill="#000"/><circle cx="527.20" cy="346.41" r="6.25" fill="#000"/><circle cx="543.20" cy="368.13" r="6.25" fill="#000"/><circle cx="559.20" cy="382.18" r="6.25" fill="#000"/><circle cx="575.20" cy="399.77" r="6.25" fill="#000"/><circle cx="591.20" cy="399.77" r="6.25" fill="#000"/><circle cx="607.20" cy="423.33" r="6.25" fill="#000"/><circle cx="623.20" cy="438.95" r="6.25" fill="#000"/><circle cx="639.20" cy="459.09" r="6.25" fill="#000"/><circle cx="655.20" cy="459.09" r="6.25" fill="#000"/><circle cx="671.20" cy="487.47" r="6.25" fill="#000"/><circle cx="687.20" cy="536.00" r="6.25" fill="#000"/><circle cx="703.20" cy="536.00" r="6.25" fill="#000"/><circle cx="719.20" cy="536.00" r="6.25" fill="#000"/><circle cx="735.20" cy="536.00" r="6.25" fill="#000"/><circle cx="751.20" cy="536.00" r="6.25" fill="#000"/><circle cx="767.20" cy="536.00" r="6.25" fill="#000"/><circle cx="783.20" cy="536.00" r="6.25" fill="#000"/></g>
<path d="M127.20 162.67 L143.20 163.35 L159.20 163.35 L175.20 167.93 L191.20 167.93 L207.20 174.02 L223.20 174.02 L239.20 188.07 L255.20 190.55 L271.20 190.55 L287.20 201.42 L303.20 236.60 L319.20 236.60 L335.20 258.05 L351.20 270.76 L367.20 287.30 L383.20 287.30 L399.20 319.60 L415.20 319.60 L431.20 346.41 L447.20 351.24 L463.20 356.43 L479.20 356.43 L495.20 382.18 L511.20 382.18 L527.20 390.42 L543.20 410.56 L559.20 438.95 L575.20 438.95 L591.20 438.95 L607.20 459.09 L623.20 487.47 L639.20 487.47 L655.20 487.47 L671.20 487.47" fill="none" stroke="#D060D0" stroke-width="4.2" stroke-linejoin="round" stroke-linecap="round"/>
<g><path d="M122.30 162.67L132.10 162.67" stroke="#000" stroke-width="1.3" fill="none"/><path d="M127.20 157.37L127.20 167.97" stroke="#000" stroke-width="1.7" fill="none"/><path d="M138.30 163.35L148.10 163.35" stroke="#000" stroke-width="1.3" fill="none"/><path d="M143.20 158.05L143.20 168.65" stroke="#000" stroke-width="1.7" fill="none"/><path d="M154.30 163.35L164.10 163.35" stroke="#000" stroke-width="1.3" fill="none"/><path d="M159.20 158.05L159.20 168.65" stroke="#000" stroke-width="1.7" fill="none"/><path d="M170.30 167.93L180.10 167.93" stroke="#000" stroke-width="1.3" fill="none"/><path d="M175.20 162.63L175.20 173.23" stroke="#000" stroke-width="1.7" fill="none"/><path d="M186.30 167.93L196.10 167.93" stroke="#000" stroke-width="1.3" fill="none"/><path d="M191.20 162.63L191.20 173.23" stroke="#000" stroke-width="1.7" fill="none"/><path d="M202.30 174.02L212.10 174.02" stroke="#000" stroke-width="1.3" fill="none"/><path d="M207.20 168.72L207.20 179.32" stroke="#000" stroke-width="1.7" fill="none"/><path d="M218.30 174.02L228.10 174.02" stroke="#000" stroke-width="1.3" fill="none"/><path d="M223.20 168.72L223.20 179.32" stroke="#000" stroke-width="1.7" fill="none"/><path d="M234.30 188.07L244.10 188.07" stroke="#000" stroke-width="1.3" fill="none"/><path d="M239.20 182.77L239.20 193.37" stroke="#000" stroke-width="1.7" fill="none"/><path d="M250.30 190.55L260.10 190.55" stroke="#000" stroke-width="1.3" fill="none"/><path d="M255.20 185.25L255.20 195.85" stroke="#000" stroke-width="1.7" fill="none"/><path d="M266.30 190.55L276.10 190.55" stroke="#000" stroke-width="1.3" fill="none"/><path d="M271.20 185.25L271.20 195.85" stroke="#000" stroke-width="1.7" fill="none"/><path d="M282.30 201.42L292.10 201.42" stroke="#000" stroke-width="1.3" fill="none"/><path d="M287.20 196.12L287.20 206.72" stroke="#000" stroke-width="1.7" fill="none"/><path d="M298.30 236.60L308.10 236.60" stroke="#000" stroke-width="1.3" fill="none"/><path d="M303.20 231.30L303.20 241.90" stroke="#000" stroke-width="1.7" fill="none"/><path d="M314.30 236.60L324.10 236.60" stroke="#000" stroke-width="1.3" fill="none"/><path d="M319.20 231.30L319.20 241.90" stroke="#000" stroke-width="1.7" fill="none"/><path d="M330.30 258.05L340.10 258.05" stroke="#000" stroke-width="1.3" fill="none"/><path d="M335.20 252.75L335.20 263.35" stroke="#000" stroke-width="1.7" fill="none"/><path d="M346.30 270.76L356.10 270.76" stroke="#000" stroke-width="1.3" fill="none"/><path d="M351.20 265.46L351.20 276.06" stroke="#000" stroke-width="1.7" fill="none"/><path d="M362.30 287.30L372.10 287.30" stroke="#000" stroke-width="1.3" fill="none"/><path d="M367.20 282.00L367.20 292.60" stroke="#000" stroke-width="1.7" fill="none"/><path d="M378.30 287.30L388.10 287.30" stroke="#000" stroke-width="1.3" fill="none"/><path d="M383.20 282.00L383.20 292.60" stroke="#000" stroke-width="1.7" fill="none"/><path d="M394.30 319.60L404.10 319.60" stroke="#000" stroke-width="1.3" fill="none"/><path d="M399.20 314.30L399.20 324.90" stroke="#000" stroke-width="1.7" fill="none"/><path d="M410.30 319.60L420.10 319.60" stroke="#000" stroke-width="1.3" fill="none"/><path d="M415.20 314.30L415.20 324.90" stroke="#000" stroke-width="1.7" fill="none"/><path d="M426.30 346.41L436.10 346.41" stroke="#000" stroke-width="1.3" fill="none"/><path d="M431.20 341.11L431.20 351.71" stroke="#000" stroke-width="1.7" fill="none"/><path d="M442.30 351.24L452.10 351.24" stroke="#000" stroke-width="1.3" fill="none"/><path d="M447.20 345.94L447.20 356.54" stroke="#000" stroke-width="1.7" fill="none"/><path d="M458.30 356.43L468.10 356.43" stroke="#000" stroke-width="1.3" fill="none"/><path d="M463.20 351.13L463.20 361.73" stroke="#000" stroke-width="1.7" fill="none"/><path d="M474.30 356.43L484.10 356.43" stroke="#000" stroke-width="1.3" fill="none"/><path d="M479.20 351.13L479.20 361.73" stroke="#000" stroke-width="1.7" fill="none"/><path d="M490.30 382.18L500.10 382.18" stroke="#000" stroke-width="1.3" fill="none"/><path d="M495.20 376.88L495.20 387.48" stroke="#000" stroke-width="1.7" fill="none"/><path d="M506.30 382.18L516.10 382.18" stroke="#000" stroke-width="1.3" fill="none"/><path d="M511.20 376.88L511.20 387.48" stroke="#000" stroke-width="1.7" fill="none"/><path d="M522.30 390.42L532.10 390.42" stroke="#000" stroke-width="1.3" fill="none"/><path d="M527.20 385.12L527.20 395.72" stroke="#000" stroke-width="1.7" fill="none"/><path d="M538.30 410.56L548.10 410.56" stroke="#000" stroke-width="1.3" fill="none"/><path d="M543.20 405.26L543.20 415.86" stroke="#000" stroke-width="1.7" fill="none"/><path d="M554.30 438.95L564.10 438.95" stroke="#000" stroke-width="1.3" fill="none"/><path d="M559.20 433.65L559.20 444.25" stroke="#000" stroke-width="1.7" fill="none"/><path d="M570.30 438.95L580.10 438.95" stroke="#000" stroke-width="1.3" fill="none"/><path d="M575.20 433.65L575.20 444.25" stroke="#000" stroke-width="1.7" fill="none"/><path d="M586.30 438.95L596.10 438.95" stroke="#000" stroke-width="1.3" fill="none"/><path d="M591.20 433.65L591.20 444.25" stroke="#000" stroke-width="1.7" fill="none"/><path d="M602.30 459.09L612.10 459.09" stroke="#000" stroke-width="1.3" fill="none"/><path d="M607.20 453.79L607.20 464.39" stroke="#000" stroke-width="1.7" fill="none"/><path d="M618.30 487.47L628.10 487.47" stroke="#000" stroke-width="1.3" fill="none"/><path d="M623.20 482.17L623.20 492.77" stroke="#000" stroke-width="1.7" fill="none"/><path d="M634.30 487.47L644.10 487.47" stroke="#000" stroke-width="1.3" fill="none"/><path d="M639.20 482.17L639.20 492.77" stroke="#000" stroke-width="1.7" fill="none"/><path d="M650.30 487.47L660.10 487.47" stroke="#000" stroke-width="1.3" fill="none"/><path d="M655.20 482.17L655.20 492.77" stroke="#000" stroke-width="1.7" fill="none"/><path d="M666.30 487.47L676.10 487.47" stroke="#000" stroke-width="1.3" fill="none"/><path d="M671.20 482.17L671.20 492.77" stroke="#000" stroke-width="1.7" fill="none"/></g>
<path d="M127.20 259.38 L143.20 259.38 L159.20 259.38 L175.20 264.98 L191.20 264.98 L207.20 269.50 L223.20 269.50 L239.20 285.12 L255.20 287.70 L271.20 287.70 L287.20 294.69 L303.20 329.86 L319.20 329.86 L335.20 356.43 L351.20 362.04 L367.20 399.77 L383.20 399.77 L399.20 423.33 L415.20 423.33 L431.20 438.95 L447.20 438.95 L463.20 438.95 L479.20 438.95 L495.20 536.00" fill="none" stroke="#6A1ED2" stroke-width="2.8" stroke-linejoin="round" stroke-linecap="round"/>
<g><path d="M127.20 254.68L132.10 263.28L122.30 263.28Z" fill="#000"/><path d="M143.20 254.68L148.10 263.28L138.30 263.28Z" fill="#000"/><path d="M159.20 254.68L164.10 263.28L154.30 263.28Z" fill="#000"/><path d="M175.20 260.28L180.10 268.88L170.30 268.88Z" fill="#000"/><path d="M191.20 260.28L196.10 268.88L186.30 268.88Z" fill="#000"/><path d="M207.20 264.80L212.10 273.40L202.30 273.40Z" fill="#000"/><path d="M223.20 264.80L228.10 273.40L218.30 273.40Z" fill="#000"/><path d="M239.20 280.42L244.10 289.02L234.30 289.02Z" fill="#000"/><path d="M255.20 283.00L260.10 291.60L250.30 291.60Z" fill="#000"/><path d="M271.20 283.00L276.10 291.60L266.30 291.60Z" fill="#000"/><path d="M287.20 289.99L292.10 298.59L282.30 298.59Z" fill="#000"/><path d="M303.20 325.16L308.10 333.76L298.30 333.76Z" fill="#000"/><path d="M319.20 325.16L324.10 333.76L314.30 333.76Z" fill="#000"/><path d="M335.20 351.73L340.10 360.33L330.30 360.33Z" fill="#000"/><path d="M351.20 357.34L356.10 365.94L346.30 365.94Z" fill="#000"/><path d="M367.20 395.07L372.10 403.67L362.30 403.67Z" fill="#000"/><path d="M383.20 395.07L388.10 403.67L378.30 403.67Z" fill="#000"/><path d="M399.20 418.63L404.10 427.23L394.30 427.23Z" fill="#000"/><path d="M415.20 418.63L420.10 427.23L410.30 427.23Z" fill="#000"/><path d="M431.20 434.25L436.10 442.85L426.30 442.85Z" fill="#000"/><path d="M447.20 434.25L452.10 442.85L442.30 442.85Z" fill="#000"/><path d="M463.20 434.25L468.10 442.85L458.30 442.85Z" fill="#000"/><path d="M479.20 434.25L484.10 442.85L474.30 442.85Z" fill="#000"/><path d="M495.20 531.30L500.10 539.90L490.30 539.90Z" fill="#000"/></g>
<path d="M127.20 264.98 L143.20 266.46 L159.20 266.46 L175.20 271.08 L191.20 271.08 L207.20 287.10 L223.20 287.10 L239.20 312.35 L255.20 318.97 L271.20 318.97 L287.20 337.65 L303.20 362.04 L319.20 362.04 L335.20 374.80 L351.20 399.77 L367.20 410.56 L383.20 410.56 L399.20 438.95 L415.20 438.95 L431.20 438.95 L447.20 438.95 L463.20 459.09 L479.20 459.09 L495.20 459.09 L511.20 459.09 L527.20 459.09 L543.20 459.09 L559.20 459.09 L575.20 459.09 L591.20 459.09 L607.20 459.09" fill="none" stroke="#FF0000" stroke-width="3.8" stroke-linejoin="round" stroke-dasharray="0.01 7.5" stroke-linecap="round"/>
<g><path d="M123.30 261.08L131.10 268.88M131.10 261.08L123.30 268.88" stroke="#000" stroke-width="1.7" fill="none"/><path d="M127.20 261.08L127.20 268.88" stroke="#000" stroke-width="1.3" fill="none"/><path d="M139.30 262.56L147.10 270.36M147.10 262.56L139.30 270.36" stroke="#000" stroke-width="1.7" fill="none"/><path d="M143.20 262.56L143.20 270.36" stroke="#000" stroke-width="1.3" fill="none"/><path d="M155.30 262.56L163.10 270.36M163.10 262.56L155.30 270.36" stroke="#000" stroke-width="1.7" fill="none"/><path d="M159.20 262.56L159.20 270.36" stroke="#000" stroke-width="1.3" fill="none"/><path d="M171.30 267.18L179.10 274.98M179.10 267.18L171.30 274.98" stroke="#000" stroke-width="1.7" fill="none"/><path d="M175.20 267.18L175.20 274.98" stroke="#000" stroke-width="1.3" fill="none"/><path d="M187.30 267.18L195.10 274.98M195.10 267.18L187.30 274.98" stroke="#000" stroke-width="1.7" fill="none"/><path d="M191.20 267.18L191.20 274.98" stroke="#000" stroke-width="1.3" fill="none"/><path d="M203.30 283.20L211.10 291.00M211.10 283.20L203.30 291.00" stroke="#000" stroke-width="1.7" fill="none"/><path d="M207.20 283.20L207.20 291.00" stroke="#000" stroke-width="1.3" fill="none"/><path d="M219.30 283.20L227.10 291.00M227.10 283.20L219.30 291.00" stroke="#000" stroke-width="1.7" fill="none"/><path d="M223.20 283.20L223.20 291.00" stroke="#000" stroke-width="1.3" fill="none"/><path d="M235.30 308.45L243.10 316.25M243.10 308.45L235.30 316.25" stroke="#000" stroke-width="1.7" fill="none"/><path d="M239.20 308.45L239.20 316.25" stroke="#000" stroke-width="1.3" fill="none"/><path d="M251.30 315.07L259.10 322.87M259.10 315.07L251.30 322.87" stroke="#000" stroke-width="1.7" fill="none"/><path d="M255.20 315.07L255.20 322.87" stroke="#000" stroke-width="1.3" fill="none"/><path d="M267.30 315.07L275.10 322.87M275.10 315.07L267.30 322.87" stroke="#000" stroke-width="1.7" fill="none"/><path d="M271.20 315.07L271.20 322.87" stroke="#000" stroke-width="1.3" fill="none"/><path d="M283.30 333.75L291.10 341.55M291.10 333.75L283.30 341.55" stroke="#000" stroke-width="1.7" fill="none"/><path d="M287.20 333.75L287.20 341.55" stroke="#000" stroke-width="1.3" fill="none"/><path d="M299.30 358.14L307.10 365.94M307.10 358.14L299.30 365.94" stroke="#000" stroke-width="1.7" fill="none"/><path d="M303.20 358.14L303.20 365.94" stroke="#000" stroke-width="1.3" fill="none"/><path d="M315.30 358.14L323.10 365.94M323.10 358.14L315.30 365.94" stroke="#000" stroke-width="1.7" fill="none"/><path d="M319.20 358.14L319.20 365.94" stroke="#000" stroke-width="1.3" fill="none"/><path d="M331.30 370.90L339.10 378.70M339.10 370.90L331.30 378.70" stroke="#000" stroke-width="1.7" fill="none"/><path d="M335.20 370.90L335.20 378.70" stroke="#000" stroke-width="1.3" fill="none"/><path d="M347.30 395.87L355.10 403.67M355.10 395.87L347.30 403.67" stroke="#000" stroke-width="1.7" fill="none"/><path d="M351.20 395.87L351.20 403.67" stroke="#000" stroke-width="1.3" fill="none"/><path d="M363.30 406.66L371.10 414.46M371.10 406.66L363.30 414.46" stroke="#000" stroke-width="1.7" fill="none"/><path d="M367.20 406.66L367.20 414.46" stroke="#000" stroke-width="1.3" fill="none"/><path d="M379.30 406.66L387.10 414.46M387.10 406.66L379.30 414.46" stroke="#000" stroke-width="1.7" fill="none"/><path d="M383.20 406.66L383.20 414.46" stroke="#000" stroke-width="1.3" fill="none"/><path d="M395.30 435.05L403.10 442.85M403.10 435.05L395.30 442.85" stroke="#000" stroke-width="1.7" fill="none"/><path d="M399.20 435.05L399.20 442.85" stroke="#000" stroke-width="1.3" fill="none"/><path d="M411.30 435.05L419.10 442.85M419.10 435.05L411.30 442.85" stroke="#000" stroke-width="1.7" fill="none"/><path d="M415.20 435.05L415.20 442.85" stroke="#000" stroke-width="1.3" fill="none"/><path d="M427.30 435.05L435.10 442.85M435.10 435.05L427.30 442.85" stroke="#000" stroke-width="1.7" fill="none"/><path d="M431.20 435.05L431.20 442.85" stroke="#000" stroke-width="1.3" fill="none"/><path d="M443.30 435.05L451.10 442.85M451.10 435.05L443.30 442.85" stroke="#000" stroke-width="1.7" fill="none"/><path d="M447.20 435.05L447.20 442.85" stroke="#000" stroke-width="1.3" fill="none"/><path d="M459.30 455.19L467.10 462.99M467.10 455.19L459.30 462.99" stroke="#000" stroke-width="1.7" fill="none"/><path d="M463.20 455.19L463.20 462.99" stroke="#000" stroke-width="1.3" fill="none"/><path d="M475.30 455.19L483.10 462.99M483.10 455.19L475.30 462.99" stroke="#000" stroke-width="1.7" fill="none"/><path d="M479.20 455.19L479.20 462.99" stroke="#000" stroke-width="1.3" fill="none"/><path d="M491.30 455.19L499.10 462.99M499.10 455.19L491.30 462.99" stroke="#000" stroke-width="1.7" fill="none"/><path d="M495.20 455.19L495.20 462.99" stroke="#000" stroke-width="1.3" fill="none"/><path d="M507.30 455.19L515.10 462.99M515.10 455.19L507.30 462.99" stroke="#000" stroke-width="1.7" fill="none"/><path d="M511.20 455.19L511.20 462.99" stroke="#000" stroke-width="1.3" fill="none"/><path d="M523.30 455.19L531.10 462.99M531.10 455.19L523.30 462.99" stroke="#000" stroke-width="1.7" fill="none"/><path d="M527.20 455.19L527.20 462.99" stroke="#000" stroke-width="1.3" fill="none"/><path d="M539.30 455.19L547.10 462.99M547.10 455.19L539.30 462.99" stroke="#000" stroke-width="1.7" fill="none"/><path d="M543.20 455.19L543.20 462.99" stroke="#000" stroke-width="1.3" fill="none"/><path d="M555.30 455.19L563.10 462.99M563.10 455.19L555.30 462.99" stroke="#000" stroke-width="1.7" fill="none"/><path d="M559.20 455.19L559.20 462.99" stroke="#000" stroke-width="1.3" fill="none"/><path d="M571.30 455.19L579.10 462.99M579.10 455.19L571.30 462.99" stroke="#000" stroke-width="1.7" fill="none"/><path d="M575.20 455.19L575.20 462.99" stroke="#000" stroke-width="1.3" fill="none"/><path d="M587.30 455.19L595.10 462.99M595.10 455.19L587.30 462.99" stroke="#000" stroke-width="1.7" fill="none"/><path d="M591.20 455.19L591.20 462.99" stroke="#000" stroke-width="1.3" fill="none"/><path d="M603.30 455.19L611.10 462.99M611.10 455.19L603.30 462.99" stroke="#000" stroke-width="1.7" fill="none"/><path d="M607.20 455.19L607.20 462.99" stroke="#000" stroke-width="1.3" fill="none"/></g>
<path d="M127.20 244.30 L143.20 245.39 L159.20 245.39 L175.20 250.54 L191.20 250.54 L207.20 264.98 L223.20 264.98 L239.20 289.13 L255.20 294.69 L271.20 294.69 L287.20 308.99 L303.20 333.65 L319.20 333.65 L335.20 362.04 L351.20 382.18 L367.20 399.77 L383.20 399.77 L399.20 438.95 L415.20 438.95 L431.20 459.09 L447.20 487.47 L463.20 487.47 L479.20 487.47 L495.20 487.47 L511.20 487.47 L527.20 487.47 L543.20 487.47 L559.20 487.47 L575.20 487.47 L591.20 487.47 L607.20 487.47 L623.20 536.00" fill="none" stroke="#00B050" stroke-width="3.8" stroke-linejoin="round" stroke-dasharray="0.01 7.5" stroke-linecap="round"/>
<g><path d="M127.20 240.60L131.20 247.80L123.20 247.80Z" fill="none" stroke="#000" stroke-width="1.7" stroke-linejoin="miter"/><path d="M143.20 241.69L147.20 248.89L139.20 248.89Z" fill="none" stroke="#000" stroke-width="1.7" stroke-linejoin="miter"/><path d="M159.20 241.69L163.20 248.89L155.20 248.89Z" fill="none" stroke="#000" stroke-width="1.7" stroke-linejoin="miter"/><path d="M175.20 246.84L179.20 254.04L171.20 254.04Z" fill="none" stroke="#000" stroke-width="1.7" stroke-linejoin="miter"/><path d="M191.20 246.84L195.20 254.04L187.20 254.04Z" fill="none" stroke="#000" stroke-width="1.7" stroke-linejoin="miter"/><path d="M207.20 261.28L211.20 268.48L203.20 268.48Z" fill="none" stroke="#000" stroke-width="1.7" stroke-linejoin="miter"/><path d="M223.20 261.28L227.20 268.48L219.20 268.48Z" fill="none" stroke="#000" stroke-width="1.7" stroke-linejoin="miter"/><path d="M239.20 285.43L243.20 292.63L235.20 292.63Z" fill="none" stroke="#000" stroke-width="1.7" stroke-linejoin="miter"/><path d="M255.20 290.99L259.20 298.19L251.20 298.19Z" fill="none" stroke="#000" stroke-width="1.7" stroke-linejoin="miter"/><path d="M271.20 290.99L275.20 298.19L267.20 298.19Z" fill="none" stroke="#000" stroke-width="1.7" stroke-linejoin="miter"/><path d="M287.20 305.29L291.20 312.49L283.20 312.49Z" fill="none" stroke="#000" stroke-width="1.7" stroke-linejoin="miter"/><path d="M303.20 329.95L307.20 337.15L299.20 337.15Z" fill="none" stroke="#000" stroke-width="1.7" stroke-linejoin="miter"/><path d="M319.20 329.95L323.20 337.15L315.20 337.15Z" fill="none" stroke="#000" stroke-width="1.7" stroke-linejoin="miter"/><path d="M335.20 358.34L339.20 365.54L331.20 365.54Z" fill="none" stroke="#000" stroke-width="1.7" stroke-linejoin="miter"/><path d="M351.20 378.48L355.20 385.68L347.20 385.68Z" fill="none" stroke="#000" stroke-width="1.7" stroke-linejoin="miter"/><path d="M367.20 396.07L371.20 403.27L363.20 403.27Z" fill="none" stroke="#000" stroke-width="1.7" stroke-linejoin="miter"/><path d="M383.20 396.07L387.20 403.27L379.20 403.27Z" fill="none" stroke="#000" stroke-width="1.7" stroke-linejoin="miter"/><path d="M399.20 435.25L403.20 442.45L395.20 442.45Z" fill="none" stroke="#000" stroke-width="1.7" stroke-linejoin="miter"/><path d="M415.20 435.25L419.20 442.45L411.20 442.45Z" fill="none" stroke="#000" stroke-width="1.7" stroke-linejoin="miter"/><path d="M431.20 455.39L435.20 462.59L427.20 462.59Z" fill="none" stroke="#000" stroke-width="1.7" stroke-linejoin="miter"/><path d="M447.20 483.77L451.20 490.97L443.20 490.97Z" fill="none" stroke="#000" stroke-width="1.7" stroke-linejoin="miter"/><path d="M463.20 483.77L467.20 490.97L459.20 490.97Z" fill="none" stroke="#000" stroke-width="1.7" stroke-linejoin="miter"/><path d="M479.20 483.77L483.20 490.97L475.20 490.97Z" fill="none" stroke="#000" stroke-width="1.7" stroke-linejoin="miter"/><path d="M495.20 483.77L499.20 490.97L491.20 490.97Z" fill="none" stroke="#000" stroke-width="1.7" stroke-linejoin="miter"/><path d="M511.20 483.77L515.20 490.97L507.20 490.97Z" fill="none" stroke="#000" stroke-width="1.7" stroke-linejoin="miter"/><path d="M527.20 483.77L531.20 490.97L523.20 490.97Z" fill="none" stroke="#000" stroke-width="1.7" stroke-linejoin="miter"/><path d="M543.20 483.77L547.20 490.97L539.20 490.97Z" fill="none" stroke="#000" stroke-width="1.7" stroke-linejoin="miter"/><path d="M559.20 483.77L563.20 490.97L555.20 490.97Z" fill="none" stroke="#000" stroke-width="1.7" stroke-linejoin="miter"/><path d="M575.20 483.77L579.20 490.97L571.20 490.97Z" fill="none" stroke="#000" stroke-width="1.7" stroke-linejoin="miter"/><path d="M591.20 483.77L595.20 490.97L587.20 490.97Z" fill="none" stroke="#000" stroke-width="1.7" stroke-linejoin="miter"/><path d="M607.20 483.77L611.20 490.97L603.20 490.97Z" fill="none" stroke="#000" stroke-width="1.7" stroke-linejoin="miter"/><path d="M623.20 532.30L627.20 539.50L619.20 539.50Z" fill="none" stroke="#000" stroke-width="1.7" stroke-linejoin="miter"/></g>
<path d="M127.20 243.76 L143.20 244.84 L159.20 244.84 L175.20 247.07 L191.20 247.07 L207.20 256.74 L223.20 256.74 L239.20 277.75 L255.20 289.13 L271.20 291.22 L287.20 312.07 L303.20 337.65 L319.20 337.65 L335.20 382.18 L351.20 410.56 L367.20 459.09 L383.20 459.09 L399.20 487.47 L415.20 487.47 L431.20 536.00" fill="none" stroke="#0000FF" stroke-width="3.8" stroke-linejoin="round" stroke-dasharray="0.01 7.5" stroke-linecap="round"/>
<path d="M127.20 265.72 L143.20 266.46 L159.20 266.46 L175.20 269.50 L191.20 269.50 L207.20 277.75 L223.20 277.75 L239.20 304.75 L255.20 321.54 L271.20 321.54 L287.20 351.24 L303.20 374.80 L319.20 374.80 L335.20 399.77 L351.20 423.33 L367.20 459.09 L383.20 459.09 L399.20 459.09 L415.20 459.09 L431.20 536.00 L447.20 536.00" fill="none" stroke="#808080" stroke-width="3.4" stroke-linejoin="round" stroke-dasharray="6 7.3" stroke-linecap="round"/>
<g><circle cx="127.20" cy="265.72" r="4.75" fill="none" stroke="#000" stroke-width="1.5"/><circle cx="143.20" cy="266.46" r="4.75" fill="none" stroke="#000" stroke-width="1.5"/><circle cx="159.20" cy="266.46" r="4.75" fill="none" stroke="#000" stroke-width="1.5"/><circle cx="175.20" cy="269.50" r="4.75" fill="none" stroke="#000" stroke-width="1.5"/><circle cx="191.20" cy="269.50" r="4.75" fill="none" stroke="#000" stroke-width="1.5"/><circle cx="207.20" cy="277.75" r="4.75" fill="none" stroke="#000" stroke-width="1.5"/><circle cx="223.20" cy="277.75" r="4.75" fill="none" stroke="#000" stroke-width="1.5"/><circle cx="239.20" cy="304.75" r="4.75" fill="none" stroke="#000" stroke-width="1.5"/><circle cx="255.20" cy="321.54" r="4.75" fill="none" stroke="#000" stroke-width="1.5"/><circle cx="271.20" cy="321.54" r="4.75" fill="none" stroke="#000" stroke-width="1.5"/><circle cx="287.20" cy="351.24" r="4.75" fill="none" stroke="#000" stroke-width="1.5"/><circle cx="303.20" cy="374.80" r="4.75" fill="none" stroke="#000" stroke-width="1.5"/><circle cx="319.20" cy="374.80" r="4.75" fill="none" stroke="#000" stroke-width="1.5"/><circle cx="335.20" cy="399.77" r="4.75" fill="none" stroke="#000" stroke-width="1.5"/><circle cx="351.20" cy="423.33" r="4.75" fill="none" stroke="#000" stroke-width="1.5"/><circle cx="367.20" cy="459.09" r="4.75" fill="none" stroke="#000" stroke-width="1.5"/><circle cx="383.20" cy="459.09" r="4.75" fill="none" stroke="#000" stroke-width="1.5"/><circle cx="399.20" cy="459.09" r="4.75" fill="none" stroke="#000" stroke-width="1.5"/><circle cx="415.20" cy="459.09" r="4.75" fill="none" stroke="#000" stroke-width="1.5"/><circle cx="431.20" cy="536.00" r="4.75" fill="none" stroke="#000" stroke-width="1.5"/><circle cx="447.20" cy="536.00" r="4.75" fill="none" stroke="#000" stroke-width="1.5"/></g>
<path d="M127.20 241.64 L143.20 242.69 L159.20 242.69 L175.20 249.36 L191.20 249.36 L207.20 258.05 L223.20 258.05 L239.20 285.12 L255.20 296.27 L271.20 296.27 L287.20 322.86 L303.20 343.22 L319.20 343.22 L335.20 368.13 L351.20 382.18 L367.20 399.77 L383.20 399.77 L399.20 423.33 L415.20 423.33 L431.20 487.47 L447.20 487.47 L463.20 536.00 L479.20 536.00 L495.20 536.00 L511.20 536.00 L527.20 536.00 L543.20 536.00 L559.20 536.00 L575.20 536.00 L591.20 536.00" fill="none" stroke="#4472C4" stroke-width="3.4" stroke-linejoin="round" stroke-dasharray="6 7.3" stroke-linecap="round"/>
<g><path d="M127.20 236.94L132.10 245.54L122.30 245.54Z" fill="#000"/><path d="M143.20 237.99L148.10 246.59L138.30 246.59Z" fill="#000"/><path d="M159.20 237.99L164.10 246.59L154.30 246.59Z" fill="#000"/><path d="M175.20 244.66L180.10 253.26L170.30 253.26Z" fill="#000"/><path d="M191.20 244.66L196.10 253.26L186.30 253.26Z" fill="#000"/><path d="M207.20 253.35L212.10 261.95L202.30 261.95Z" fill="#000"/><path d="M223.20 253.35L228.10 261.95L218.30 261.95Z" fill="#000"/><path d="M239.20 280.42L244.10 289.02L234.30 289.02Z" fill="#000"/><path d="M255.20 291.57L260.10 300.17L250.30 300.17Z" fill="#000"/><path d="M271.20 291.57L276.10 300.17L266.30 300.17Z" fill="#000"/><path d="M287.20 318.16L292.10 326.76L282.30 326.76Z" fill="#000"/><path d="M303.20 338.52L308.10 347.12L298.30 347.12Z" fill="#000"/><path d="M319.20 338.52L324.10 347.12L314.30 347.12Z" fill="#000"/><path d="M335.20 363.43L340.10 372.03L330.30 372.03Z" fill="#000"/><path d="M351.20 377.48L356.10 386.08L346.30 386.08Z" fill="#000"/><path d="M367.20 395.07L372.10 403.67L362.30 403.67Z" fill="#000"/><path d="M383.20 395.07L388.10 403.67L378.30 403.67Z" fill="#000"/><path d="M399.20 418.63L404.10 427.23L394.30 427.23Z" fill="#000"/><path d="M415.20 418.63L420.10 427.23L410.30 427.23Z" fill="#000"/><path d="M431.20 482.77L436.10 491.37L426.30 491.37Z" fill="#000"/><path d="M447.20 482.77L452.10 491.37L442.30 491.37Z" fill="#000"/><path d="M463.20 531.30L468.10 539.90L458.30 539.90Z" fill="#000"/><path d="M479.20 531.30L484.10 539.90L474.30 539.90Z" fill="#000"/><path d="M495.20 531.30L500.10 539.90L490.30 539.90Z" fill="#000"/><path d="M511.20 531.30L516.10 539.90L506.30 539.90Z" fill="#000"/><path d="M527.20 531.30L532.10 539.90L522.30 539.90Z" fill="#000"/><path d="M543.20 531.30L548.10 539.90L538.30 539.90Z" fill="#000"/><path d="M559.20 531.30L564.10 539.90L554.30 539.90Z" fill="#000"/><path d="M575.20 531.30L580.10 539.90L570.30 539.90Z" fill="#000"/><path d="M591.20 531.30L596.10 539.90L586.30 539.90Z" fill="#000"/></g>
<path d="M127.20 212.49 L143.20 213.60 L159.20 213.60 L175.20 217.19 L191.20 217.19 L207.20 230.10 L223.20 230.10 L239.20 253.32 L255.20 259.65 L271.20 259.65 L287.20 272.68 L303.20 305.78 L319.20 305.78 L335.20 336.02 L351.20 356.43 L367.20 368.13 L383.20 368.13 L399.20 390.42 L415.20 390.42 L431.20 423.33 L447.20 438.95 L463.20 459.09 L479.20 459.09 L495.20 459.09 L511.20 459.09 L527.20 459.09 L543.20 459.09 L559.20 459.09 L575.20 459.09 L591.20 459.09 L607.20 459.09 L623.20 487.47" fill="none" stroke="#FF0000" stroke-width="4.2" stroke-linejoin="round" stroke-dasharray="7.5 7.3" stroke-linecap="round"/>
<g><path d="M122.30 212.49L132.10 212.49" stroke="#000" stroke-width="1.3" fill="none"/><path d="M127.20 207.19L127.20 217.79" stroke="#000" stroke-width="1.7" fill="none"/><path d="M138.30 213.60L148.10 213.60" stroke="#000" stroke-width="1.3" fill="none"/><path d="M143.20 208.30L143.20 218.90" stroke="#000" stroke-width="1.7" fill="none"/><path d="M154.30 213.60L164.10 213.60" stroke="#000" stroke-width="1.3" fill="none"/><path d="M159.20 208.30L159.20 218.90" stroke="#000" stroke-width="1.7" fill="none"/><path d="M170.30 217.19L180.10 217.19" stroke="#000" stroke-width="1.3" fill="none"/><path d="M175.20 211.89L175.20 222.49" stroke="#000" stroke-width="1.7" fill="none"/><path d="M186.30 217.19L196.10 217.19" stroke="#000" stroke-width="1.3" fill="none"/><path d="M191.20 211.89L191.20 222.49" stroke="#000" stroke-width="1.7" fill="none"/><path d="M202.30 230.10L212.10 230.10" stroke="#000" stroke-width="1.3" fill="none"/><path d="M207.20 224.80L207.20 235.40" stroke="#000" stroke-width="1.7" fill="none"/><path d="M218.30 230.10L228.10 230.10" stroke="#000" stroke-width="1.3" fill="none"/><path d="M223.20 224.80L223.20 235.40" stroke="#000" stroke-width="1.7" fill="none"/><path d="M234.30 253.32L244.10 253.32" stroke="#000" stroke-width="1.3" fill="none"/><path d="M239.20 248.02L239.20 258.62" stroke="#000" stroke-width="1.7" fill="none"/><path d="M250.30 259.65L260.10 259.65" stroke="#000" stroke-width="1.3" fill="none"/><path d="M255.20 254.35L255.20 264.95" stroke="#000" stroke-width="1.7" fill="none"/><path d="M266.30 259.65L276.10 259.65" stroke="#000" stroke-width="1.3" fill="none"/><path d="M271.20 254.35L271.20 264.95" stroke="#000" stroke-width="1.7" fill="none"/><path d="M282.30 272.68L292.10 272.68" stroke="#000" stroke-width="1.3" fill="none"/><path d="M287.20 267.38L287.20 277.98" stroke="#000" stroke-width="1.7" fill="none"/><path d="M298.30 305.78L308.10 305.78" stroke="#000" stroke-width="1.3" fill="none"/><path d="M303.20 300.48L303.20 311.08" stroke="#000" stroke-width="1.7" fill="none"/><path d="M314.30 305.78L324.10 305.78" stroke="#000" stroke-width="1.3" fill="none"/><path d="M319.20 300.48L319.20 311.08" stroke="#000" stroke-width="1.7" fill="none"/><path d="M330.30 336.02L340.10 336.02" stroke="#000" stroke-width="1.3" fill="none"/><path d="M335.20 330.72L335.20 341.32" stroke="#000" stroke-width="1.7" fill="none"/><path d="M346.30 356.43L356.10 356.43" stroke="#000" stroke-width="1.3" fill="none"/><path d="M351.20 351.13L351.20 361.73" stroke="#000" stroke-width="1.7" fill="none"/><path d="M362.30 368.13L372.10 368.13" stroke="#000" stroke-width="1.3" fill="none"/><path d="M367.20 362.83L367.20 373.43" stroke="#000" stroke-width="1.7" fill="none"/><path d="M378.30 368.13L388.10 368.13" stroke="#000" stroke-width="1.3" fill="none"/><path d="M383.20 362.83L383.20 373.43" stroke="#000" stroke-width="1.7" fill="none"/><path d="M394.30 390.42L404.10 390.42" stroke="#000" stroke-width="1.3" fill="none"/><path d="M399.20 385.12L399.20 395.72" stroke="#000" stroke-width="1.7" fill="none"/><path d="M410.30 390.42L420.10 390.42" stroke="#000" stroke-width="1.3" fill="none"/><path d="M415.20 385.12L415.20 395.72" stroke="#000" stroke-width="1.7" fill="none"/><path d="M426.30 423.33L436.10 423.33" stroke="#000" stroke-width="1.3" fill="none"/><path d="M431.20 418.03L431.20 428.63" stroke="#000" stroke-width="1.7" fill="none"/><path d="M442.30 438.95L452.10 438.95" stroke="#000" stroke-width="1.3" fill="none"/><path d="M447.20 433.65L447.20 444.25" stroke="#000" stroke-width="1.7" fill="none"/><path d="M458.30 459.09L468.10 459.09" stroke="#000" stroke-width="1.3" fill="none"/><path d="M463.20 453.79L463.20 464.39" stroke="#000" stroke-width="1.7" fill="none"/><path d="M474.30 459.09L484.10 459.09" stroke="#000" stroke-width="1.3" fill="none"/><path d="M479.20 453.79L479.20 464.39" stroke="#000" stroke-width="1.7" fill="none"/><path d="M490.30 459.09L500.10 459.09" stroke="#000" stroke-width="1.3" fill="none"/><path d="M495.20 453.79L495.20 464.39" stroke="#000" stroke-width="1.7" fill="none"/><path d="M506.30 459.09L516.10 459.09" stroke="#000" stroke-width="1.3" fill="none"/><path d="M511.20 453.79L511.20 464.39" stroke="#000" stroke-width="1.7" fill="none"/><path d="M522.30 459.09L532.10 459.09" stroke="#000" stroke-width="1.3" fill="none"/><path d="M527.20 453.79L527.20 464.39" stroke="#000" stroke-width="1.7" fill="none"/><path d="M538.30 459.09L548.10 459.09" stroke="#000" stroke-width="1.3" fill="none"/><path d="M543.20 453.79L543.20 464.39" stroke="#000" stroke-width="1.7" fill="none"/><path d="M554.30 459.09L564.10 459.09" stroke="#000" stroke-width="1.3" fill="none"/><path d="M559.20 453.79L559.20 464.39" stroke="#000" stroke-width="1.7" fill="none"/><path d="M570.30 459.09L580.10 459.09" stroke="#000" stroke-width="1.3" fill="none"/><path d="M575.20 453.79L575.20 464.39" stroke="#000" stroke-width="1.7" fill="none"/><path d="M586.30 459.09L596.10 459.09" stroke="#000" stroke-width="1.3" fill="none"/><path d="M591.20 453.79L591.20 464.39" stroke="#000" stroke-width="1.7" fill="none"/><path d="M602.30 459.09L612.10 459.09" stroke="#000" stroke-width="1.3" fill="none"/><path d="M607.20 453.79L607.20 464.39" stroke="#000" stroke-width="1.7" fill="none"/><path d="M618.30 487.47L628.10 487.47" stroke="#000" stroke-width="1.3" fill="none"/><path d="M623.20 482.17L623.20 492.77" stroke="#000" stroke-width="1.7" fill="none"/></g>
<path d="M127.20 54.17 L143.20 55.99 L159.20 55.99 L175.20 61.91 L191.20 61.91 L207.20 71.71 L223.20 71.71 L239.20 87.70 L255.20 95.80 L271.20 95.80 L287.20 107.53 L303.20 133.05 L319.20 133.05 L335.20 163.00 L351.20 176.04 L367.20 192.33 L383.20 192.33 L399.20 221.92 L415.20 221.92 L431.20 251.74 L447.20 262.55 L463.20 273.18 L479.20 273.18 L495.20 296.50 L511.20 296.50 L527.20 314.39 L543.20 327.33 L559.20 338.90 L575.20 351.24 L591.20 351.24 L607.20 368.13 L623.20 390.42 L639.20 459.09 L655.20 459.09 L671.20 487.47 L687.20 536.00 L703.20 536.00 L719.20 536.00 L735.20 536.00 L751.20 536.00 L767.20 536.00 L783.20 536.00" fill="none" stroke="#000000" stroke-width="3.4" stroke-linejoin="round" stroke-linecap="round"/>
<rect x="117" y="53.2" width="115.80000000000001" height="481.00000000000006" fill="rgb(213,213,213)" fill-opacity="0.6"/>
<rect x="597.8" y="53.2" width="85.20000000000005" height="481.00000000000006" fill="rgb(213,213,213)" fill-opacity="0.6"/>
<line x1="118" y1="52.4" x2="597.8" y2="52.4" stroke="#000" stroke-width="2.2"/>
<line x1="597.8" y1="52.4" x2="683" y2="52.4" stroke="#6a6a6a" stroke-width="2.2"/>
<path d="M231.4 525 L231.4 481" stroke="#000" stroke-width="2.3" fill="none"/>
<path d="M222.3 491.4 L231.4 480.2 L240.5 491.4" stroke="#000" stroke-width="2.3" fill="none" stroke-linejoin="miter"/>
<text transform="translate(246.09,513.90) scale(0.9805,1)" font-size="41.30" font-style="italic" font-family="Liberation Sans">M</text>
<text transform="translate(278.38,524.04) scale(1.0535,1)" font-size="26.00" font-style="italic" font-family="Liberation Sans">c</text>
<text transform="translate(146.36,22.83) scale(0.9875,1)" font-size="27.04" font-style="normal" font-family="Liberation Sans">2017 OBS</text>
<text transform="translate(27.95,61.67) scale(0.9550,1)" font-size="31.10">1000</text>
<text transform="translate(44.29,222.77) scale(0.9550,1)" font-size="31.10">100</text>
<text transform="translate(60.92,383.77) scale(0.9550,1)" font-size="31.10">10</text>
<text transform="translate(74.35,544.96) scale(0.9550,1)" font-size="31.10">1</text>
<text transform="translate(104.58,581.06) scale(0.9550,1)" font-size="31.10" font-style="normal">-1</text>
<text transform="translate(270.98,580.87) scale(0.9550,1)" font-size="31.10" font-style="normal">0</text>
<text transform="translate(430.54,581.06) scale(0.9550,1)" font-size="31.10" font-style="normal">1</text>
<text transform="translate(590.98,580.87) scale(0.9550,1)" font-size="31.10" font-style="normal">2</text>
<text transform="translate(751.03,580.87) scale(0.9550,1)" font-size="31.10" font-style="normal">3</text>
<text transform="translate(910.13,581.06) scale(0.9550,1)" font-size="31.10" font-style="normal">4</text>
<text transform="translate(439.91,626.36) scale(1.0323,1)" font-size="32.55" font-style="normal" font-family="Liberation Sans">Magnitude</text>
<text transform="translate(34,306.06) rotate(-90) scale(0.976,1)" font-size="41.7">N</text>
<text transform="translate(699.62,19.80) scale(1.0091,1)" font-size="23.33" font-style="normal" font-family="Liberation Sans">Range</text>
<text transform="translate(782.11,20.15) scale(0.9996,1)" font-size="24.72" font-style="italic" font-family="Liberation Sans">r</text>
<g transform="translate(875.6,11.5) rotate(22)"><ellipse cx="0" cy="0" rx="3.9" ry="8.0" fill="none" stroke="#000" stroke-width="1.9"/></g>
<line x1="872.6" y1="11.8" x2="878.6" y2="11.8" stroke="#000" stroke-width="1.1"/>
<rect x="683.2" y="29.6" width="316.4" height="496.2" fill="#FFF2CC" stroke="#00B050" stroke-width="1.6"/>
<line x1="707.3" y1="45.20" x2="748.7" y2="45.20" stroke="#0A6CC0" stroke-width="3.0" stroke-linecap="round"/>
<rect x="724.00" y="41.00" width="8.4" height="8.4" fill="#000" stroke="#1F4E79" stroke-width="1"/>
<text transform="translate(753.84,53.70) scale(0.982,1)" font-size="27">0.8-1, 10-30</text>
<line x1="707.3" y1="76.20" x2="748.7" y2="76.20" stroke="#0A6CC0" stroke-width="3.0" stroke-linecap="round"/>
<rect x="724.40" y="72.40" width="7.6" height="7.6" fill="none" stroke="#000" stroke-width="1.5"/>
<text transform="translate(753.84,84.70) scale(0.982,1)" font-size="27">0.8-1, 20-40</text>
<line x1="707.3" y1="107.20" x2="748.7" y2="107.20" stroke="#00B0F0" stroke-width="3.6" stroke-linecap="round"/>
<path d="M728.20 103.20L732.20 107.20L728.20 111.20L724.20 107.20Z" fill="none" stroke="#000" stroke-width="1.6"/>
<text transform="translate(753.84,115.70) scale(0.982,1)" font-size="27">0.8-1, 30-50</text>
<line x1="707.3" y1="138.20" x2="748.7" y2="138.20" stroke="#92F060" stroke-width="3.6" stroke-linecap="round"/>
<path d="M724.30 134.30L732.10 142.10M732.10 134.30L724.30 142.10" stroke="#000" stroke-width="1.7" fill="none"/><path d="M728.20 134.30L728.20 142.10" stroke="#000" stroke-width="1.3" fill="none"/>
<text transform="translate(753.84,146.70) scale(0.982,1)" font-size="27">0.8-1, 40-60</text>
<line x1="707.3" y1="169.20" x2="748.7" y2="169.20" stroke="#FFC000" stroke-width="3.6" stroke-linecap="round"/>
<path d="M728.20 165.50L732.20 172.70L724.20 172.70Z" fill="none" stroke="#000" stroke-width="1.7" stroke-linejoin="miter"/>
<text transform="translate(753.84,177.70) scale(0.982,1)" font-size="27">0.8-1, 50-70</text>
<line x1="707.3" y1="200.20" x2="748.7" y2="200.20" stroke="#FF66FF" stroke-width="4.2" stroke-linecap="round"/>
<path d="M723.90 195.90L732.50 204.50M732.50 195.90L723.90 204.50" stroke="#000" stroke-width="1.6" fill="none" stroke-linecap="round"/>
<text transform="translate(753.84,208.70) scale(0.982,1)" font-size="27">0.8-1, 60-80</text>
<line x1="707.3" y1="231.20" x2="748.7" y2="231.20" stroke="#FF4F4F" stroke-width="3.3" stroke-linecap="round"/>
<circle cx="728.20" cy="231.20" r="6.25" fill="#000"/>
<text transform="translate(753.84,239.70) scale(0.982,1)" font-size="27">0.8-1, 70-90</text>
<line x1="707.3" y1="262.20" x2="748.7" y2="262.20" stroke="#D060D0" stroke-width="4.2" stroke-linecap="round"/>
<path d="M723.30 262.20L733.10 262.20" stroke="#000" stroke-width="1.3" fill="none"/><path d="M728.20 256.90L728.20 267.50" stroke="#000" stroke-width="1.7" fill="none"/>
<text transform="translate(753.84,270.70) scale(0.982,1)" font-size="27">0.8-1, 80-100</text>
<line x1="707.3" y1="293.20" x2="748.7" y2="293.20" stroke="#6A1ED2" stroke-width="2.8" stroke-linecap="round"/>
<path d="M728.20 288.50L733.10 297.10L723.30 297.10Z" fill="#000"/>
<text transform="translate(753.84,301.70) scale(0.982,1)" font-size="27">0.8-1, 90-110</text>
<line x1="707" y1="324.20" x2="745" y2="324.20" stroke="#FF0000" stroke-width="3.8" stroke-dasharray="0.01 7.5" stroke-linecap="round"/>
<path d="M724.30 320.30L732.10 328.10M732.10 320.30L724.30 328.10" stroke="#000" stroke-width="1.7" fill="none"/><path d="M728.20 320.30L728.20 328.10" stroke="#000" stroke-width="1.3" fill="none"/>
<text transform="translate(753.84,332.70) scale(0.982,1)" font-size="27">0.5-0.8, 22.5-67.5</text>
<line x1="707" y1="355.20" x2="745" y2="355.20" stroke="#00B050" stroke-width="3.8" stroke-dasharray="0.01 7.5" stroke-linecap="round"/>
<path d="M728.20 351.50L732.20 358.70L724.20 358.70Z" fill="none" stroke="#000" stroke-width="1.7" stroke-linejoin="miter"/>
<text transform="translate(753.84,363.70) scale(0.982,1)" font-size="27">0.5-0.8, 45-90</text>
<line x1="707" y1="386.20" x2="745" y2="386.20" stroke="#0000FF" stroke-width="3.8" stroke-dasharray="0.01 7.5" stroke-linecap="round"/>
<text transform="translate(753.84,394.70) scale(0.982,1)" font-size="27">0.5-0.8, 67.5-112.5</text>
<line x1="707.3" y1="417.20" x2="748.7" y2="417.20" stroke="#808080" stroke-width="3.4" stroke-dasharray="6 7.3" stroke-linecap="round"/>
<circle cx="728.20" cy="417.20" r="4.75" fill="none" stroke="#000" stroke-width="1.5"/>
<text transform="translate(753.84,425.70) scale(0.982,1)" font-size="27">0.5-0.8, 90-135</text>
<line x1="707.3" y1="448.20" x2="748.7" y2="448.20" stroke="#4472C4" stroke-width="3.4" stroke-dasharray="6 7.3" stroke-linecap="round"/>
<path d="M728.20 443.50L733.10 452.10L723.30 452.10Z" fill="#000"/>
<text transform="translate(753.84,456.70) scale(0.982,1)" font-size="27">0-0.8, 90-180</text>
<line x1="707.3" y1="479.20" x2="748.7" y2="479.20" stroke="#FF0000" stroke-width="4.2" stroke-dasharray="7.5 7.3" stroke-linecap="round"/>
<path d="M723.30 479.20L733.10 479.20" stroke="#000" stroke-width="1.3" fill="none"/><path d="M728.20 473.90L728.20 484.50" stroke="#000" stroke-width="1.7" fill="none"/>
<text transform="translate(753.84,487.70) scale(0.982,1)" font-size="27">0-0.8, 0-90</text>
<line x1="707.3" y1="510.20" x2="748.7" y2="510.20" stroke="#000000" stroke-width="3.4" stroke-linecap="round"/>
<text transform="translate(753.84,518.70) scale(0.982,1)" font-size="27">ALL</text>
</svg></body></html>
